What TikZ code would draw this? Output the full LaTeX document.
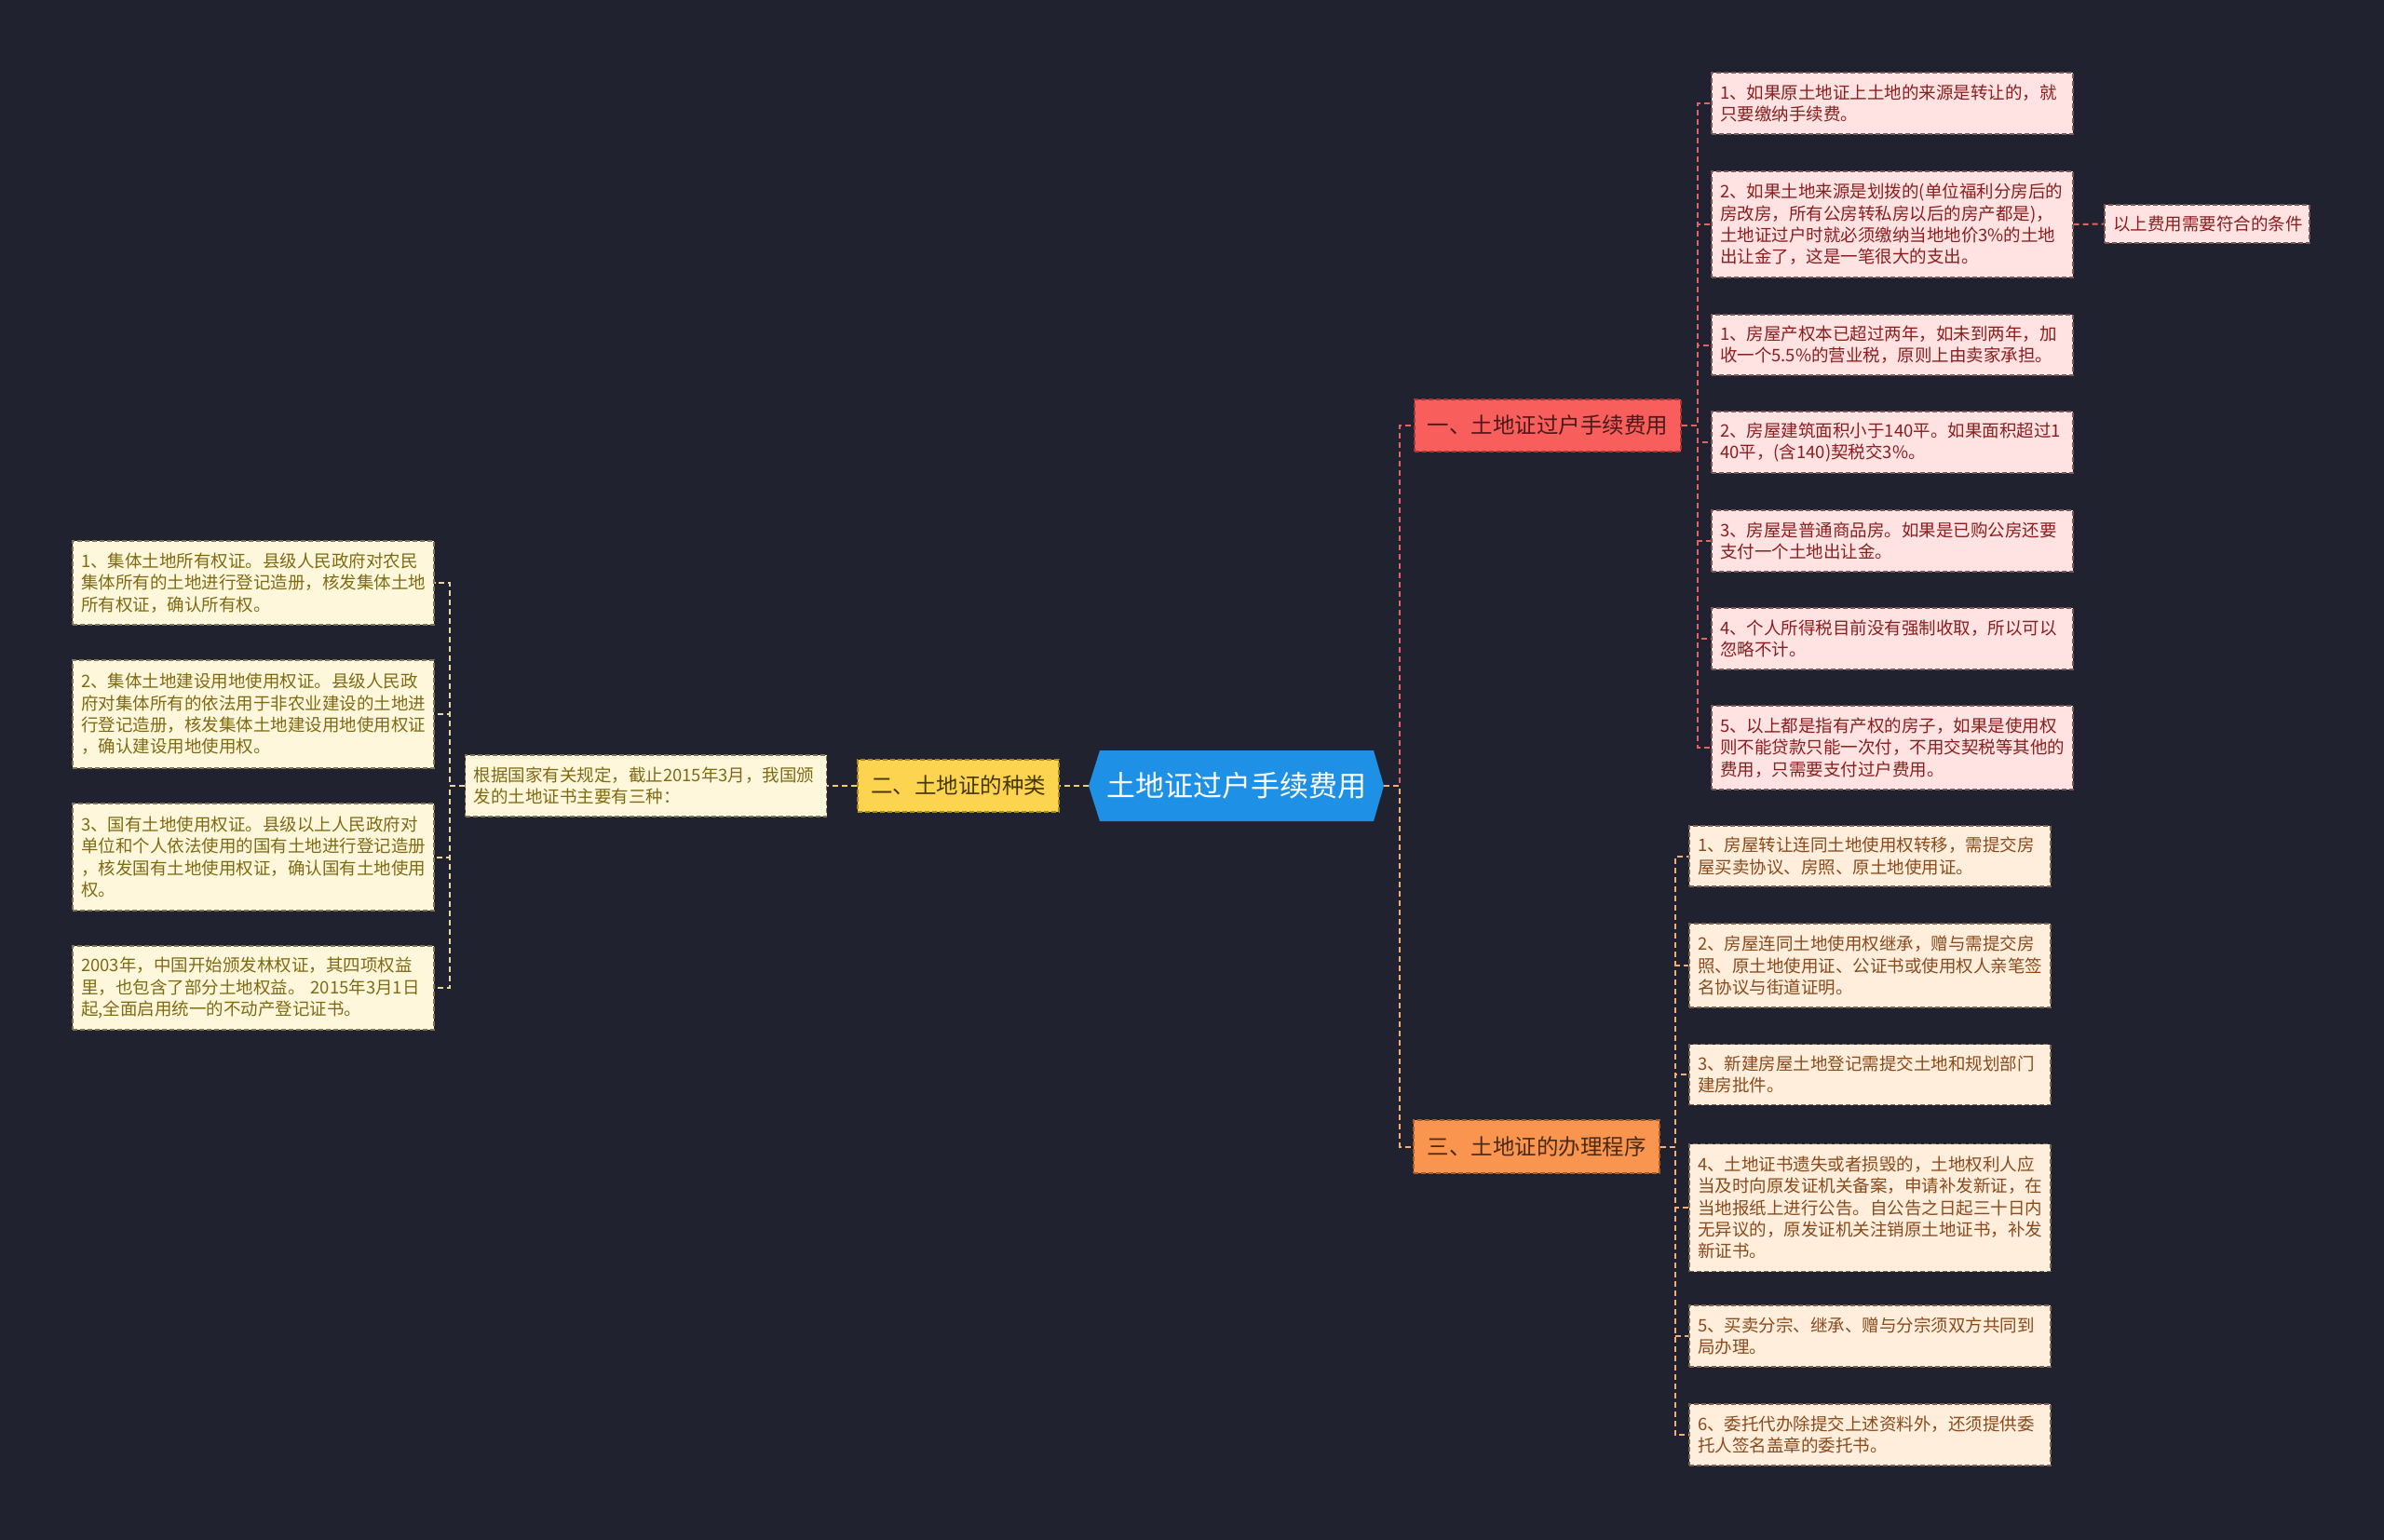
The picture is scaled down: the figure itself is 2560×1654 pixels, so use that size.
\documentclass[tikz,border=0pt]{standalone}
\usepackage{fontspec}
\setmainfont{Noto Sans CJK SC}
\usetikzlibrary{calc}
\definecolor{bgc}{HTML}{20232F}
\definecolor{rootblue}{HTML}{1E90E6}
\definecolor{b1fill}{HTML}{F85F5C}
\definecolor{b1draw}{HTML}{A83434}
\definecolor{b1text}{HTML}{4A1A1A}
\definecolor{b2fill}{HTML}{FDD450}
\definecolor{b2draw}{HTML}{A88A20}
\definecolor{b2text}{HTML}{453800}
\definecolor{b3fill}{HTML}{F9954F}
\definecolor{b3draw}{HTML}{A85E28}
\definecolor{b3text}{HTML}{4A2A12}
\definecolor{redkidfill}{HTML}{FFE2E2}
\definecolor{redkiddraw}{HTML}{7A5656}
\definecolor{redkidtext}{HTML}{8B1E1E}
\definecolor{orkidfill}{HTML}{FFEEDC}
\definecolor{orkiddraw}{HTML}{7E6250}
\definecolor{orkidtext}{HTML}{8A4A1C}
\definecolor{yekidfill}{HTML}{FFF7DB}
\definecolor{yekiddraw}{HTML}{7E7658}
\definecolor{yekidtext}{HTML}{7F6A14}
\definecolor{redln}{HTML}{E06464}
\definecolor{orln}{HTML}{F2AE78}
\definecolor{yeln}{HTML}{F0D060}
\definecolor{crln}{HTML}{E6D8A0}
\begin{document}
\begin{tikzpicture}[x=1pt,y=-1pt,
  kidbase/.style={rectangle, line width=1.2pt, dash pattern=on 5pt off 3pt,
    inner xsep=9pt, inner ysep=0pt, text width=370pt, align=left,
    font=\fontsize{18.5}{23.3}\selectfont},
  redkid/.style={kidbase, draw=redkiddraw, fill=redkidfill, text=redkidtext},
  orkid/.style={kidbase, draw=orkiddraw, fill=orkidfill, text=orkidtext},
  yekid/.style={kidbase, draw=yekiddraw, fill=yekidfill, text=yekidtext},
  branchbox/.style={rectangle, line width=1.2pt, dash pattern=on 5pt off 3pt,
    inner sep=0pt, minimum height=56pt, font=\fontsize{23.5}{28}\selectfont},
  conn/.style={line width=2pt, dash pattern=on 6pt off 4pt},
]
\useasboundingbox (0,0) rectangle (2560,1654);
\fill[bgc] (0,0) rectangle (2560,1654);

% root hexagon
\fill[rootblue] (1169,844) -- (1181,806) -- (1475,806) -- (1486,844) -- (1475,882) -- (1181,882) -- cycle;
\node[inner sep=0pt, minimum width=317pt, minimum height=76pt, text=white,
  font=\fontsize{31}{36}\selectfont] (root) at (1327.5,844) {土地证过户手续费用};

% branches
\node[branchbox, fill=b1fill, draw=b1draw, text=b1text, minimum width=286pt] (b1) at (1662,457) {一、土地证过户手续费用};
\node[branchbox, fill=b2fill, draw=b2draw, text=b2text, minimum width=216pt] (b2) at (1029,844) {二、土地证的种类};
\node[branchbox, fill=b3fill, draw=b3draw, text=b3text, minimum width=264pt, minimum height=57pt] (b3) at (1650,1231.5) {三、土地证的办理程序};

% left side
\node[yekid, minimum height=66pt] (intro) at (693.5,844) {根据国家有关规定，截止2015年3月，我国颁\\发的土地证书主要有三种：};
\node[yekid, minimum height=90pt] (l1) at (272,626) {1、集体土地所有权证。县级人民政府对农民\\集体所有的土地进行登记造册，核发集体土地\\所有权证，确认所有权。};
\node[yekid, minimum height=116pt] (l2) at (272,767) {2、集体土地建设用地使用权证。县级人民政\\府对集体所有的依法用于非农业建设的土地进\\行登记造册，核发集体土地建设用地使用权证\\，确认建设用地使用权。};
\node[yekid, minimum height=115pt] (l3) at (272,920.5) {3、国有土地使用权证。县级以上人民政府对\\单位和个人依法使用的国有土地进行登记造册\\，核发国有土地使用权证，确认国有土地使用\\权。};
\node[yekid, minimum height=90pt] (l4) at (272,1061) {2003年，中国开始颁发林权证，其四项权益\\里，也包含了部分土地权益。~2015年3月1日\\起,全面启用统一的不动产登记证书。};

% right red kids
\node[redkid, minimum height=66pt] (r1) at (2032,111) {1、如果原土地证上土地的来源是转让的，就\\只要缴纳手续费。};
\node[redkid, minimum height=114pt] (r2) at (2032,241) {2、如果土地来源是划拨的(单位福利分房后的\\房改房，所有公房转私房以后的房产都是)，\\土地证过户时就必须缴纳当地地价3\%的土地\\出让金了，这是一笔很大的支出。};
\node[redkid, text width=202pt, minimum height=41pt] (rc) at (2370,240.5) {以上费用需要符合的条件};
\node[redkid, minimum height=65pt] (r3) at (2032,370.5) {1、房屋产权本已超过两年，如未到两年，加\\收一个5.5\%的营业税，原则上由卖家承担。};
\node[redkid, minimum height=66pt] (r4) at (2032,475) {2、房屋建筑面积小于140平。如果面积超过1\\40平，(含140)契税交3\%。};
\node[redkid, minimum height=66pt] (r5) at (2032,581) {3、房屋是普通商品房。如果是已购公房还要\\支付一个土地出让金。};
\node[redkid, minimum height=66pt] (r6) at (2032,686) {4、个人所得税目前没有强制收取，所以可以\\忽略不计。};
\node[redkid, minimum height=90pt] (r7) at (2032,803) {5、以上都是指有产权的房子，如果是使用权\\则不能贷款只能一次付，不用交契税等其他的\\费用，只需要支付过户费用。};

% right orange kids
\node[orkid, minimum height=65pt] (o1) at (2008,919.5) {1、房屋转让连同土地使用权转移，需提交房\\屋买卖协议、房照、原土地使用证。};
\node[orkid, minimum height=90pt] (o2) at (2008,1037) {2、房屋连同土地使用权继承，赠与需提交房\\照、原土地使用证、公证书或使用权人亲笔签\\名协议与街道证明。};
\node[orkid, minimum height=65pt] (o3) at (2008,1154) {3、新建房屋土地登记需提交土地和规划部门\\建房批件。};
\node[orkid, minimum height=137pt] (o4) at (2008,1297) {4、土地证书遗失或者损毁的，土地权利人应\\当及时向原发证机关备案，申请补发新证，在\\当地报纸上进行公告。自公告之日起三十日内\\无异议的，原发证机关注销原土地证书，补发\\新证书。};
\node[orkid, minimum height=66pt] (o5) at (2008,1435) {5、买卖分宗、继承、赠与分宗须双方共同到\\局办理。};
\node[orkid, minimum height=66pt] (o6) at (2008,1541) {6、委托代办除提交上述资料外，还须提供委\\托人签名盖章的委托书。};

% connectors
\coordinate (rj) at (1503,844);
\draw[conn, redln] (root.east) -- (rj) |- (b1.west);
\draw[conn, orln] (root.east) -- (rj) |- (b3.west);
\draw[conn, yeln] (root.west) -- (b2.east);
\draw[conn, yeln] (b2.west) -- (intro.east);
\foreach \k in {l1,l2,l3,l4}{
  \draw[conn, crln] (intro.west) -- ++(-16,0) |- (\k.east);
}
\foreach \k in {r1,r2,r3,r4,r5,r6,r7}{
  \draw[conn, redln] (b1.east) -- ++(17,0) |- (\k.west);
}
\draw[conn, redln] (r2.east) -- (rc.west);
\foreach \k in {o1,o2,o3,o4,o5,o6}{
  \draw[conn, orln] (b3.east) -- ++(16,0) |- (\k.west);
}
\end{tikzpicture}
\end{document}
